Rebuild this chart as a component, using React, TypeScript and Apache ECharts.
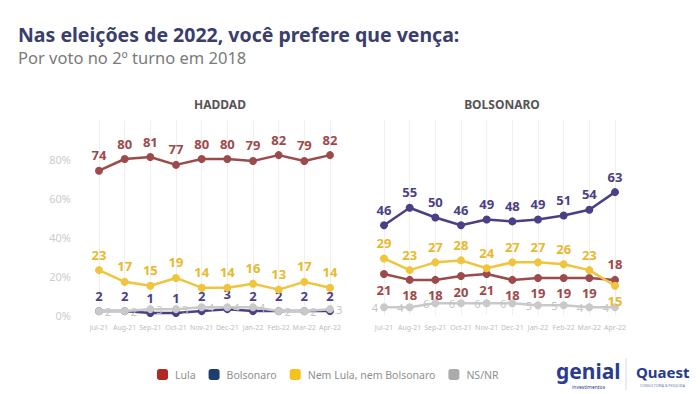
import React, { useEffect, useRef } from "react";
import * as echarts from "echarts";

const months = ["Jul-21", "Aug-21", "Sep-21", "Oct-21", "Nov-21", "Dec-21", "Jan-22", "Feb-22", "Mar-22", "Apr-22"];
const yTicks = [0, 20, 40, 60, 80, 100];

// Haddad voters
const hLula = [74, 80, 81, 77, 80, 80, 79, 82, 79, 82];
const hBolsonaro = [2, 2, 1, 1, 2, 3, 2, 2, 2, 2];
const hNem = [23, 17, 15, 19, 14, 14, 16, 13, 17, 14];
const hNs = [2, 2, 3, 3, 4, 4, 4, 2, 2, 3];

// Bolsonaro voters
const bLula = [21, 18, 18, 20, 21, 18, 19, 19, 19, 18];
const bBolsonaro = [46, 55, 50, 46, 49, 48, 49, 51, 54, 63];
const bNem = [29, 23, 27, 28, 24, 27, 27, 26, 23, 15];
const bNs = [4, 4, 6, 6, 6, 6, 5, 5, 4, 4];

const C_LULA = "#9c4a4c";
const C_BOLS = "#4b3f86";
const C_NEM = "#f0c43c";
const C_NS = "#c9c9c9";

const FONT = "'Noto Sans', sans-serif";

function mkSeries(
  name: string,
  data: number[],
  color: string,
  idx: number,
  pos: string,
  overrides: Record<number, string> = {},
  labelColor?: string,
  small?: boolean,
  z = 2
) {
  return {
    name,
    type: "line",
    xAxisIndex: idx,
    yAxisIndex: idx,
    z,
    symbol: "circle",
    symbolSize: 8,
    lineStyle: { color, width: 2.5 },
    itemStyle: { color },
    data: data.map((v, i) =>
      overrides[i] ? { value: v, label: { position: overrides[i] } } : v
    ),
    label: {
      show: true,
      position: pos,
      distance: small ? 2 : 5,
      color: labelColor || color,
      fontFamily: FONT,
      fontWeight: small ? "normal" : "bold",
      fontSize: small ? 11 : 13,
    },
  };
}

export default function App() {
  const ref = useRef<HTMLDivElement>(null);
  useEffect(() => {
    if (!ref.current) return;
    const chart = echarts.init(ref.current, null, { renderer: "svg" });
    const xAxisBase = {
      type: "category",
      data: months,
      boundaryGap: false,
      axisLine: { show: false },
      axisTick: { show: false },
      axisLabel: { color: "#bdbdbd", fontSize: 7, fontFamily: FONT, margin: 9, interval: 0 },
      splitLine: { show: true, lineStyle: { color: "#efefef", width: 1 } },
    };
    const yAxisBase = {
      type: "value",
      min: 0,
      max: 100,
      interval: 20,
      splitLine: { show: false },
      axisLine: { show: false },
      axisTick: { show: false },
    };
    chart.setOption({
      animation: false,
      backgroundColor: "#ffffff",
      title: [
        {
          text: "Nas eleições de 2022, você prefere que vença:",
          left: 13,
          top: 19,
          textStyle: { color: "#393e6d", fontSize: 19.5, fontWeight: "bold", fontFamily: FONT },
        },
        {
          text: "Por voto no 2º turno em 2018",
          left: 13,
          top: 44,
          textStyle: { color: "#7a7a7a", fontSize: 16.5, fontWeight: "normal", fontFamily: FONT },
        },
        {
          text: "HADDAD",
          left: 215,
          top: 93,
          textAlign: "center",
          textStyle: { color: "#555555", fontSize: 12, fontWeight: "bold", fontFamily: FONT },
        },
        {
          text: "BOLSONARO",
          left: 497,
          top: 93,
          textAlign: "center",
          textStyle: { color: "#555555", fontSize: 12, fontWeight: "bold", fontFamily: FONT },
        },
      ],
      legend: {
        left: 152,
        top: 364,
        itemWidth: 11,
        itemHeight: 11,
        itemGap: 13,
        icon: "roundRect",
        textStyle: { color: "#8f8f8f", fontSize: 10.5, fontFamily: FONT, padding: [0, 0, 0, 2] },
        data: [
          { name: "Lula", itemStyle: { color: "#b02a22" } },
          { name: "Bolsonaro", itemStyle: { color: "#1d3d6e" } },
          { name: "Nem Lula, nem Bolsonaro", itemStyle: { color: "#f5c21b" } },
          { name: "NS/NR", itemStyle: { color: "#ababab" } },
        ],
      },
      grid: [
        { left: 99, top: 120, width: 231, height: 195 },
        { left: 384, top: 120, width: 231, height: 195 },
      ],
      xAxis: [
        { ...xAxisBase, gridIndex: 0 },
        { ...xAxisBase, gridIndex: 1 },
      ],
      yAxis: [
        {
          ...yAxisBase,
          gridIndex: 0,
          axisLabel: {
            color: "#cccccc",
            fontSize: 11,
            fontFamily: FONT,
            margin: 28,
            formatter: (v: number) => (v === 100 ? "" : v + "%"),
          },
        },
        { ...yAxisBase, gridIndex: 1, axisLabel: { show: false } },
      ],
      graphic: [
        {
          type: "text",
          left: 556,
          top: 360,
          style: { text: "genial", fill: "#2b3b8f", fontSize: 21, fontWeight: "bold", fontFamily: FONT },
        },
        {
          type: "text",
          left: 572,
          top: 384,
          style: { text: "investimentos", fill: "#2b3b8f", fontSize: 5, fontFamily: FONT },
        },
        {
          type: "line",
          shape: { x1: 626, y1: 358, x2: 626, y2: 390 },
          style: { stroke: "#d6d9e6", lineWidth: 1 },
        },
        {
          type: "text",
          left: 636,
          top: 364,
          style: { text: "Quaest", fill: "#263b8c", fontSize: 15, fontWeight: "bold", fontFamily: FONT },
        },
        {
          type: "text",
          left: 640,
          top: 383,
          style: { text: "CONSULTORIA & PESQUISA", fill: "#6c7bb6", fontSize: 3.5, fontFamily: FONT },
        },
      ],
      series: [
        mkSeries("Bolsonaro", hBolsonaro, C_BOLS, 0, "top", {}, undefined, false, 1),
        mkSeries("NS/NR", hNs, C_NS, 0, "right", {}, "#c4c4c4", true, 2),
        mkSeries("Nem Lula, nem Bolsonaro", hNem, C_NEM, 0, "top", {}, "#e8b92c"),
        mkSeries("Lula", hLula, C_LULA, 0, "top"),
        mkSeries("NS/NR", bNs, C_NS, 1, "left", {}, "#c4c4c4", true, 1),
        mkSeries("Lula", bLula, C_LULA, 1, "bottom", { 9: "top" }),
        mkSeries("Nem Lula, nem Bolsonaro", bNem, C_NEM, 1, "top", { 9: "bottom" }, "#e8b92c"),
        mkSeries("Bolsonaro", bBolsonaro, C_BOLS, 1, "top"),
      ],
    });
    return () => chart.dispose();
  }, []);
  return <div ref={ref} style={{ width: 700, height: 394, position: "absolute", left: 0, top: 0 }} />;
}
